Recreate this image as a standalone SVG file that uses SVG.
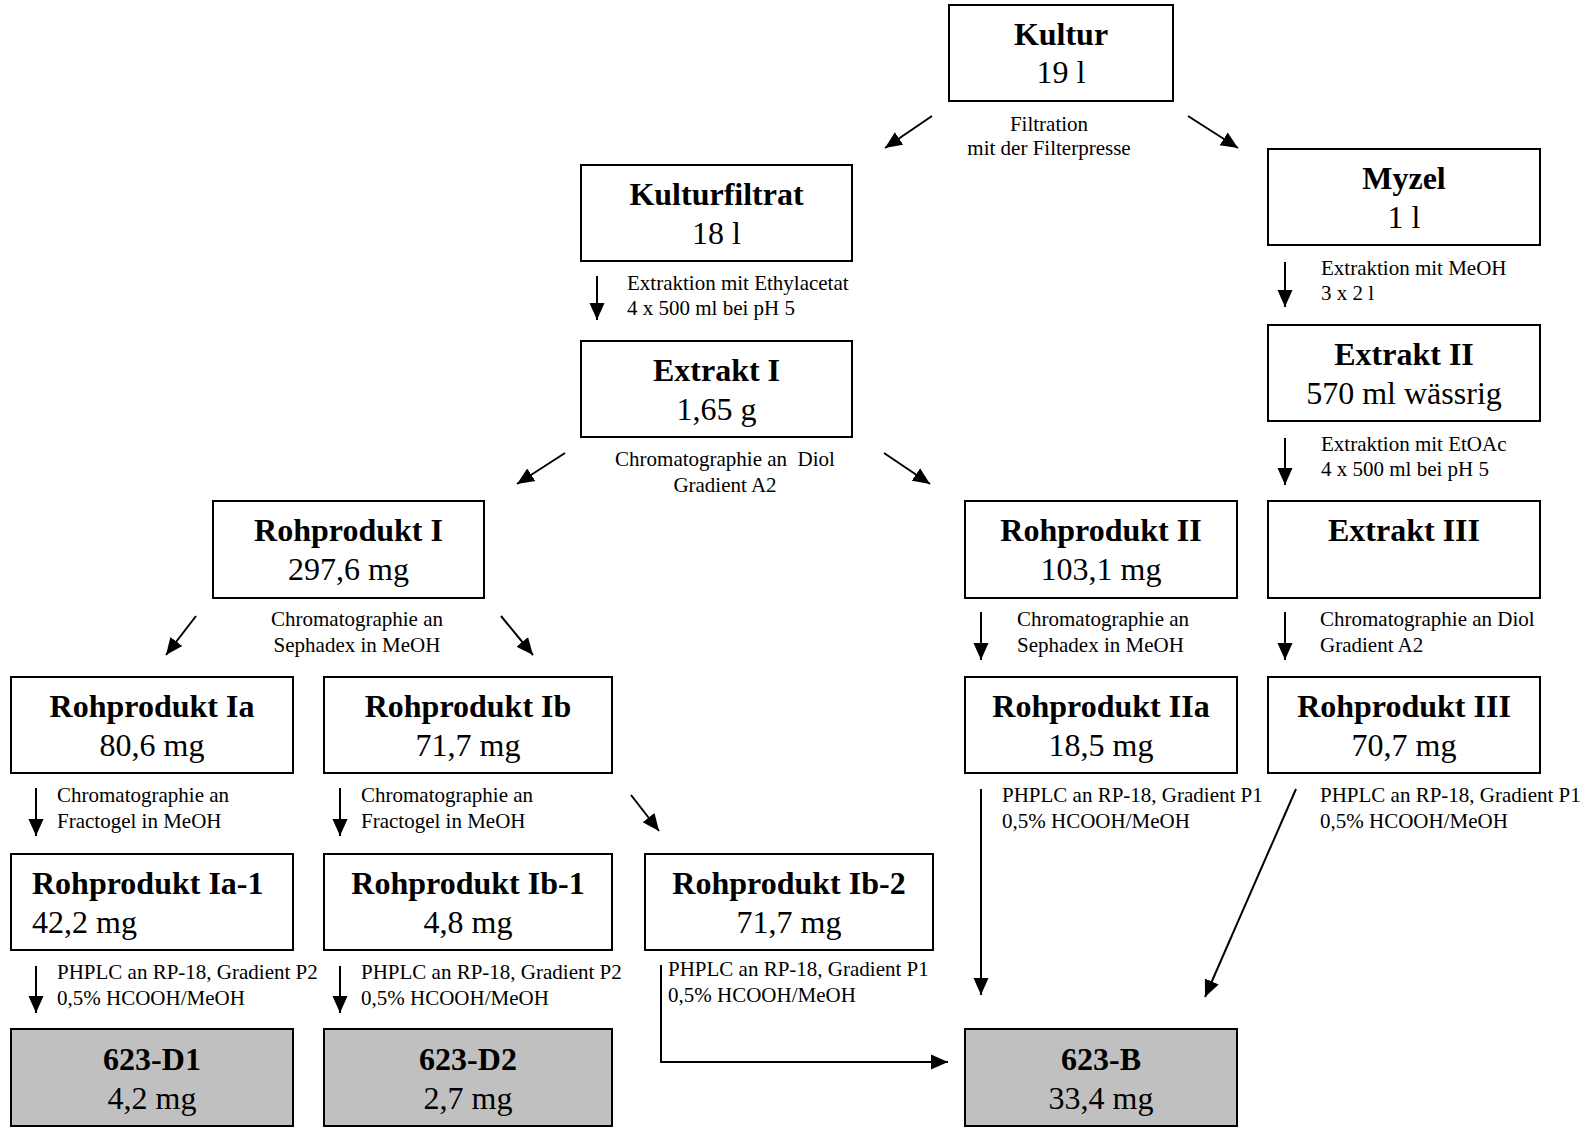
<svg xmlns="http://www.w3.org/2000/svg" width="1595" height="1128" viewBox="0 0 1595 1128">
<defs>
<style>
.box{fill:#ffffff;stroke:#000;stroke-width:2}
.fin{fill:#c0c0c0;stroke:#000;stroke-width:2}
.t{font-family:"Liberation Serif","Times New Roman",serif;font-size:32px;font-weight:bold;text-anchor:middle;fill:#000}
.v{font-family:"Liberation Serif","Times New Roman",serif;font-size:32px;text-anchor:middle;fill:#000}
.tl{text-anchor:start}
.l{font-family:"Liberation Serif","Times New Roman",serif;font-size:21px;fill:#000}
.lc{text-anchor:middle}
.c{stroke:#000;stroke-width:2;fill:none;marker-end:url(#ah)}
</style>
<marker id="ah" markerUnits="userSpaceOnUse" markerWidth="18" markerHeight="16" refX="17" refY="8" orient="auto">
<path d="M0,0.5 L17,8 L0,15.5 z" fill="#000"/>
</marker>
</defs>
<rect width="1595" height="1128" fill="#fff"/>

<g id="kultur"><rect class="box" x="949" y="5" width="224" height="96"/><text class="t" x="1061" y="45">Kultur</text><text class="v" x="1061" y="83">19 l</text></g>
<g id="kulturfiltrat"><rect class="box" x="581" y="165" width="271" height="96"/><text class="t" x="716.5" y="205">Kulturfiltrat</text><text class="v" x="716.5" y="244">18 l</text></g>
<g id="myzel"><rect class="box" x="1268" y="149" width="272" height="96"/><text class="t" x="1404" y="189">Myzel</text><text class="v" x="1404" y="228">1 l</text></g>
<g id="extrakt1"><rect class="box" x="581" y="341" width="271" height="96"/><text class="t" x="716.5" y="381">Extrakt I</text><text class="v" x="716.5" y="420">1,65 g</text></g>
<g id="extrakt2"><rect class="box" x="1268" y="325" width="272" height="96"/><text class="t" x="1404" y="365">Extrakt II</text><text class="v" x="1404" y="404">570 ml wässrig</text></g>
<g id="roh1"><rect class="box" x="213" y="501" width="271" height="97"/><text class="t" x="348.5" y="541">Rohprodukt I</text><text class="v" x="348.5" y="580">297,6 mg</text></g>
<g id="roh2"><rect class="box" x="965" y="501" width="272" height="97"/><text class="t" x="1101" y="541">Rohprodukt II</text><text class="v" x="1101" y="580">103,1 mg</text></g>
<g id="extrakt3"><rect class="box" x="1268" y="501" width="272" height="97"/><text class="t" x="1404" y="541">Extrakt III</text></g>
<g id="rohIa"><rect class="box" x="11" y="677" width="282" height="96"/><text class="t" x="152" y="717">Rohprodukt Ia</text><text class="v" x="152" y="756">80,6 mg</text></g>
<g id="rohIb"><rect class="box" x="324" y="677" width="288" height="96"/><text class="t" x="468" y="717">Rohprodukt Ib</text><text class="v" x="468" y="756">71,7 mg</text></g>
<g id="rohIIa"><rect class="box" x="965" y="677" width="272" height="96"/><text class="t" x="1101" y="717">Rohprodukt IIa</text><text class="v" x="1101" y="756">18,5 mg</text></g>
<g id="rohIII"><rect class="box" x="1268" y="677" width="272" height="96"/><text class="t" x="1404" y="717">Rohprodukt III</text><text class="v" x="1404" y="756">70,7 mg</text></g>
<g id="rohIa1"><rect class="box" x="11" y="854" width="282" height="96"/><text class="t tl" x="32" y="894">Rohprodukt Ia-1</text><text class="v tl" x="32" y="933">42,2 mg</text></g>
<g id="rohIb1"><rect class="box" x="324" y="854" width="288" height="96"/><text class="t" x="468" y="894">Rohprodukt Ib-1</text><text class="v" x="468" y="933">4,8 mg</text></g>
<g id="rohIb2"><rect class="box" x="645" y="854" width="288" height="96"/><text class="t" x="789" y="894">Rohprodukt Ib-2</text><text class="v" x="789" y="933">71,7 mg</text></g>
<g id="d1"><rect class="fin" x="11" y="1029" width="282" height="97"/><text class="t" x="152" y="1070">623-D1</text><text class="v" x="152" y="1109">4,2 mg</text></g>
<g id="d2"><rect class="fin" x="324" y="1029" width="288" height="97"/><text class="t" x="468" y="1070">623-D2</text><text class="v" x="468" y="1109">2,7 mg</text></g>
<g id="b"><rect class="fin" x="965" y="1029" width="272" height="97"/><text class="t" x="1101" y="1070">623-B</text><text class="v" x="1101" y="1109">33,4 mg</text></g>

<g id="connectors">
<line class="c" x1="932" y1="116" x2="885" y2="148"/>
<line class="c" x1="1188" y1="116" x2="1238" y2="148"/>
<line class="c" x1="597" y1="276" x2="597" y2="320"/>
<line class="c" x1="1285" y1="262" x2="1285" y2="307"/>
<line class="c" x1="1285" y1="438" x2="1285" y2="485"/>
<line class="c" x1="565" y1="453" x2="517" y2="484"/>
<line class="c" x1="884" y1="453" x2="930" y2="484"/>
<line class="c" x1="196" y1="616" x2="166" y2="655"/>
<line class="c" x1="501" y1="616" x2="533" y2="655"/>
<line class="c" x1="981" y1="612" x2="981" y2="660"/>
<line class="c" x1="1285" y1="612" x2="1285" y2="660"/>
<line class="c" x1="36" y1="788" x2="36" y2="836"/>
<line class="c" x1="340" y1="788" x2="340" y2="836"/>
<line class="c" x1="631" y1="795" x2="659" y2="831"/>
<line class="c" x1="981" y1="789" x2="981" y2="995"/>
<line class="c" x1="1296" y1="789" x2="1205" y2="997"/>
<line class="c" x1="36" y1="966" x2="36" y2="1013"/>
<line class="c" x1="340" y1="966" x2="340" y2="1013"/>
<polyline class="c" points="661,965 661,1062 948,1062"/>
</g>

<g id="labels">
<text class="l lc" x="1049" y="131">Filtration</text>
<text class="l lc" x="1049" y="155">mit der Filterpresse</text>
<text class="l" x="627" y="290">Extraktion mit Ethylacetat</text>
<text class="l" x="627" y="315">4 x 500 ml bei pH 5</text>
<text class="l" x="1321" y="275">Extraktion mit MeOH</text>
<text class="l" x="1321" y="300">3 x 2 l</text>
<text class="l" x="1321" y="451">Extraktion mit EtOAc</text>
<text class="l" x="1321" y="476">4 x 500 ml bei pH 5</text>
<text class="l lc" x="725" y="466" xml:space="preserve">Chromatographie an  Diol</text>
<text class="l lc" x="725" y="492">Gradient A2</text>
<text class="l lc" x="357" y="626">Chromatographie an</text>
<text class="l lc" x="357" y="652">Sephadex in MeOH</text>
<text class="l" x="1017" y="626">Chromatographie an</text>
<text class="l" x="1017" y="652">Sephadex in MeOH</text>
<text class="l" x="1320" y="626">Chromatographie an Diol</text>
<text class="l" x="1320" y="652">Gradient A2</text>
<text class="l" x="57" y="802">Chromatographie an</text>
<text class="l" x="57" y="828">Fractogel in MeOH</text>
<text class="l" x="361" y="802">Chromatographie an</text>
<text class="l" x="361" y="828">Fractogel in MeOH</text>
<text class="l" x="1002" y="802">PHPLC an RP-18, Gradient P1</text>
<text class="l" x="1002" y="828">0,5% HCOOH/MeOH</text>
<text class="l" x="1320" y="802">PHPLC an RP-18, Gradient P1</text>
<text class="l" x="1320" y="828">0,5% HCOOH/MeOH</text>
<text class="l" x="57" y="979">PHPLC an RP-18, Gradient P2</text>
<text class="l" x="57" y="1005">0,5% HCOOH/MeOH</text>
<text class="l" x="361" y="979">PHPLC an RP-18, Gradient P2</text>
<text class="l" x="361" y="1005">0,5% HCOOH/MeOH</text>
<text class="l" x="668" y="976">PHPLC an RP-18, Gradient P1</text>
<text class="l" x="668" y="1002">0,5% HCOOH/MeOH</text>
</g>
</svg>
